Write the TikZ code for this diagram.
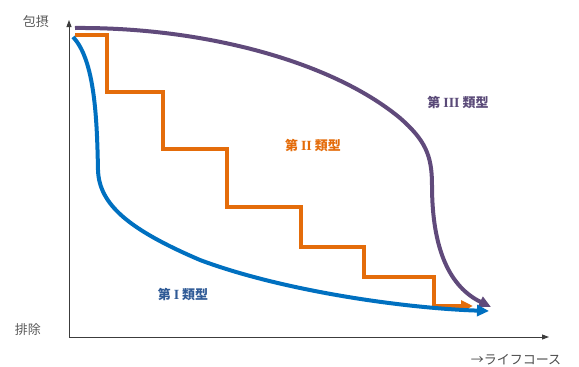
\documentclass[tikz,border=0pt]{standalone}
\usepackage{fontspec}
\setmainfont{Liberation Serif}
\newfontfamily\cjk{Noto Sans CJK JP}
\usetikzlibrary{arrows.meta}
\definecolor{cblue}{RGB}{0,112,192}
\definecolor{corange}{RGB}{228,108,10}
\definecolor{cpurple}{RGB}{96,74,123}
\definecolor{lblue}{RGB}{47,90,150}
\definecolor{lpurple}{RGB}{90,74,120}
\definecolor{axisgray}{RGB}{60,60,60}
\tikzset{
  axisline/.style={draw=axisgray, line width=0.9pt, -{Triangle[length=7pt,width=5pt]}},
  curve/.style={line width=4pt, -{Triangle[length=12pt,width=11pt]}},
  lbl/.style={font=\cjk\fontsize{13}{13}\selectfont\bfseries, inner sep=0pt},
  axlbl/.style={font=\cjk\fontsize{13}{13}\selectfont, text=black!65, inner sep=0pt},
  numeral/.style={},
}
\newcommand{\rnum}[1]{{\rmfamily\bfseries\fontsize{14}{14}\selectfont #1}}
\begin{document}
\begin{tikzpicture}[x=1pt,y=-1pt]
\useasboundingbox (0,0) rectangle (579,367);
% axes
\coordinate (origin) at (69,337);
\coordinate (ytop) at (69,20);
\coordinate (xend) at (549,337);
\draw[axisline] (origin) -- (ytop);
\draw[axisline] (origin) -- (xend);
% labels
\node[axlbl] (incl) at (36,22) {包摂};
\node[axlbl] (excl) at (28,330) {排除};
\node[axlbl, text=black!70] (life) at (516,360) {→ライフコース};
% Type III (purple)
\coordinate (p0) at (75,28);
\coordinate (p3) at (491,307);
\draw[curve, draw=cpurple] (p0) .. controls (200,27) and (330,60) .. (400,118)
   .. controls (425,140) and (432,155) .. (432,185)
   .. controls (432,250) and (450,287) .. (p3);
% Type II (orange)
\coordinate (o0) at (75,35);
\coordinate (o1) at (473,306);
\draw[curve, draw=corange, line join=miter] (o0) -- (107,35) -- (107,92) -- (163,92) -- (163,149)
   -- (227,149) -- (227,207) -- (301,207) -- (301,247) -- (364,247) -- (364,277)
   -- (434,277) -- (434,306) -- (o1);
% Type I (blue)
\coordinate (b0) at (73,37);
\coordinate (b1) at (489,311);
\draw[curve, draw=cblue] (b0) .. controls (95,60) and (97,120) .. (98,170)
   .. controls (99,205) and (130,230) .. (200,260)
   .. controls (280,290) and (400,308) .. (b1);
% type labels
\node[lbl, text=lpurple] (t3) at (458,103) {第 \rnum{III} 類型};
\node[lbl, text=corange] (t2) at (313,145) {第 \rnum{II} 類型};
\node[lbl, text=lblue] (t1) at (183,294) {第 \rnum{I} 類型};
\end{tikzpicture}
\end{document}
